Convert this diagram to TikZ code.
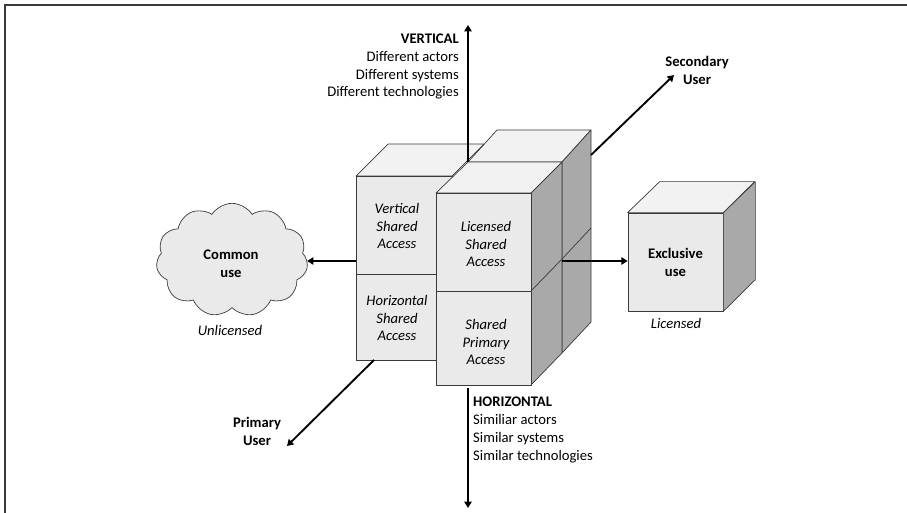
\documentclass[tikz,border=0pt]{standalone}
\usepackage{fontspec}
\setmainfont{Carlito}
\usetikzlibrary{shapes.symbols,arrows.meta}

\definecolor{edge}{HTML}{3A3A3A}
\definecolor{frontgray}{HTML}{EAEAEA}
\definecolor{topgray}{HTML}{F2F2F2}
\definecolor{sidegray}{HTML}{A9A9A9}

\tikzset{
  face/.style={draw=edge, line width=0.6pt, line join=round},
  frontface/.style={face, fill=frontgray},
  topface/.style={face, fill=topgray},
  sideface/.style={face, fill=sidegray},
  axisarrow/.style={line width=1.6pt, -{Triangle[length=1.9mm,width=2.2mm]}},
  cubelabel/.style={font=\fontsize{12.5}{15.3}\selectfont\itshape, align=center, inner sep=0pt},
  boldlabel/.style={font=\fontsize{12.5}{15.3}\selectfont\bfseries, align=center, inner sep=0pt},
  axistext/.style={font=\fontsize{12.5}{15.3}\selectfont, inner sep=0pt},
  notelabel/.style={font=\fontsize{12.5}{15.3}\selectfont\itshape, inner sep=0pt},
}

\begin{document}
\begin{tikzpicture}[x=0.03cm, y=-0.03cm]
  \useasboundingbox (0,0) rectangle (907,513);
  % frame along the top and left edges
  \draw[edge, line width=1pt] (907,5) -- (5,5) -- (5,513);

  % ---- back column (behind the licensed / primary cubes)
  \path[topface]  (468,162) -- (497,130) -- (591,130) -- (562,162) -- cycle;
  \path[sideface] (562,162) -- (591,130) -- (591,322) -- (562,353) -- cycle;
  \draw[face] (562,259) -- (591,228);

  % ---- left column: vertical / horizontal shared access
  \path[topface]   (356,176) -- (388,144) -- (484,144) -- (452,176) -- cycle;
  \path[frontface] (356,176) rectangle (452,274);
  \path[frontface] (356,274) rectangle (452,360);

  % ---- vertical axis (upper half)
  \coordinate (vbase) at (468,162);
  \coordinate (vtip)  at (468,25);
  \draw[axisarrow] (vbase) -- (vtip);

  % ---- front column: licensed shared / shared primary access
  \path[topface]   (436,193) -- (468,162) -- (562,162) -- (531,193) -- cycle;
  \path[sideface]  (531,193) -- (562,162) -- (562,353) -- (531,385) -- cycle;
  \draw[face] (531,291) -- (562,259);
  \path[frontface] (436,193) rectangle (531,291);
  \path[frontface] (436,291) rectangle (531,385);

  % cube labels
  \node[cubelabel] (vsa) at (397,226) {Vertical\\Shared\\Access};
  \node[cubelabel] (hsa) at (397,318) {Horizontal\\Shared\\Access};
  \node[cubelabel] (lsa) at (486,244) {Licensed\\Shared\\Access};
  \node[cubelabel] (spa) at (486,342) {Shared\\Primary\\Access};

  % ---- exclusive use cube
  \node[frontface, minimum width=2.85cm, minimum height=2.94cm, inner sep=0pt,
        boldlabel] (excl) at (675.5,262) {Exclusive\\use};
  \path[topface]  (excl.north west) -- ++(32,-31) -- ++(95,0) -- (excl.north east) -- cycle;
  \path[sideface] (excl.north east) -- ++(32,-31) -- ++(0,98) -- (excl.south east) -- cycle;
  \node[notelabel] (licensed) at (676,323) {Licensed};

  % ---- common use cloud
  \node[cloud, cloud puffs=11, cloud puff arc=115, aspect=1.35,
        draw=edge, line width=0.6pt, fill=frontgray,
        minimum width=4.55cm, minimum height=3.4cm] (cloud) at (232,260) {};
  \node[boldlabel] (common) at (231,264) {Common\\use};
  \node[notelabel] (unlicensed) at (230,330) {Unlicensed};

  % ---- horizontal arrows
  \coordinate (leftstart)  at (356,261);
  \coordinate (rightstart) at (562,261);
  \draw[axisarrow] (leftstart) -- (cloud.east |- leftstart);
  \draw[axisarrow] (rightstart) -- (excl.west |- rightstart);

  % ---- user arrows
  \coordinate (secstart) at (591,155);
  \coordinate (sectip)   at (674,75);
  \draw[axisarrow] (secstart) -- (sectip);
  \node[boldlabel] (secondary) at (697,70) {Secondary\\User};

  \coordinate (primstart) at (374,360);
  \coordinate (primtip)   at (287,446);
  \draw[axisarrow] (primstart) -- (primtip);
  \node[boldlabel] (primary) at (257,431) {Primary\\User};

  % ---- vertical axis (lower half)
  \coordinate (hbase) at (468,388);
  \coordinate (htip)  at (468,508);
  \draw[axisarrow] (hbase) -- (htip);

  % axis captions
  \node[axistext, align=right, anchor=east] (vertical) at (459,66.5)
    {\textbf{VERTICAL}\\Different actors\\Different systems\\Different technologies};
  \node[axistext, align=left, anchor=west] (horizontal) at (473,430)
    {\textbf{HORIZONTAL}\\Similiar actors\\Similar systems\\Similar technologies};
\end{tikzpicture}
\end{document}
